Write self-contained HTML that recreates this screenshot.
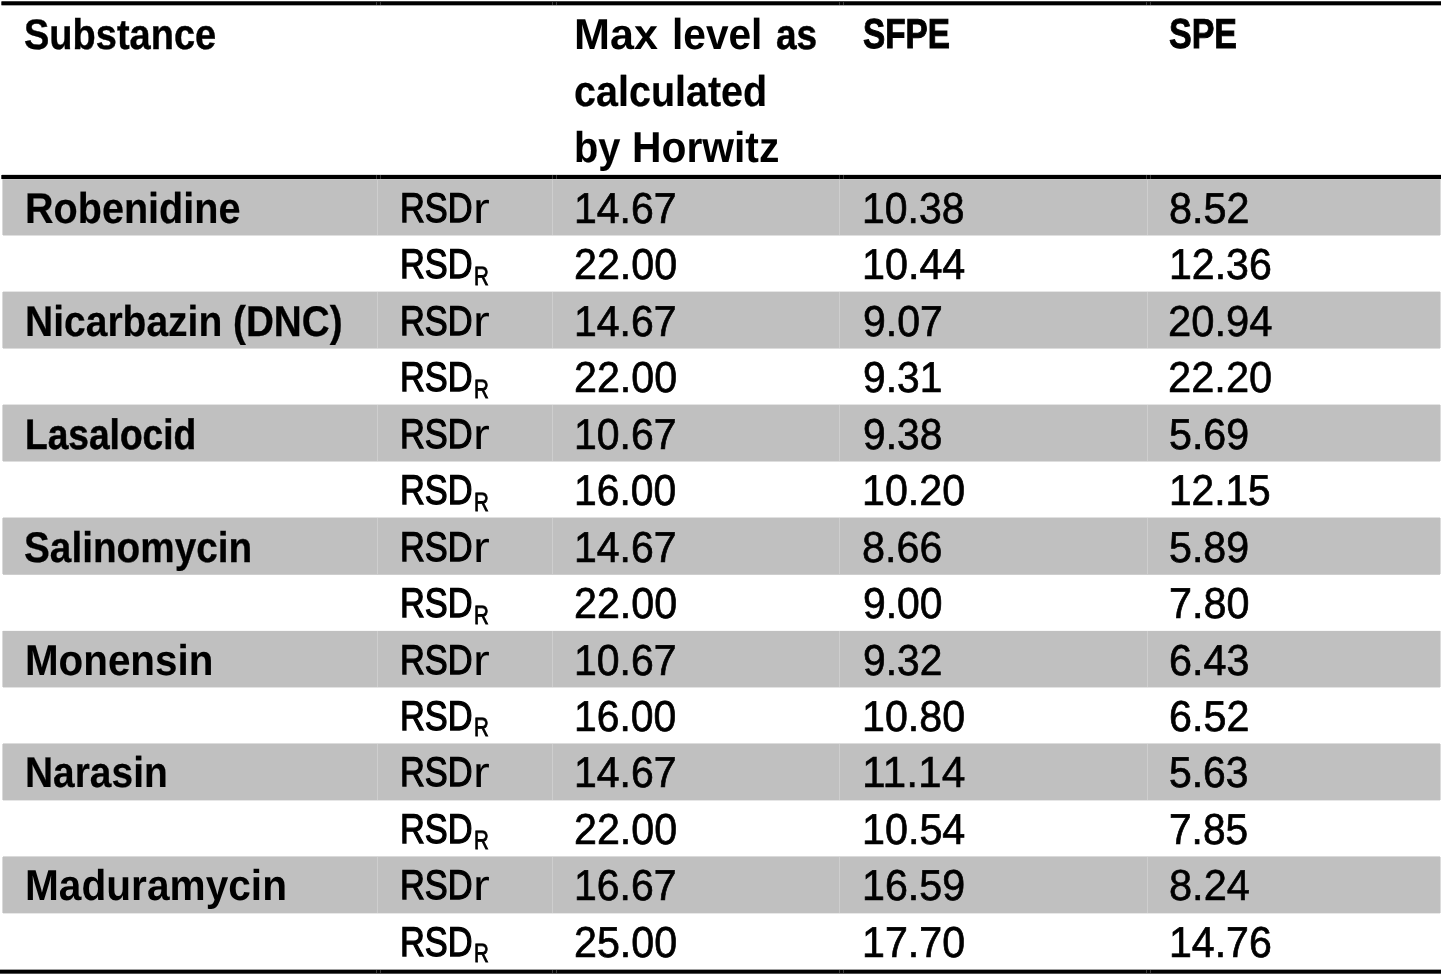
<!DOCTYPE html>
<html lang="en"><head><meta charset="utf-8"><title>Table</title>
<style>
html,body{margin:0;padding:0;background:#fff}
body{width:1444px;height:980px;position:relative;overflow:hidden;font-family:"Liberation Sans",sans-serif;color:#000;text-rendering:geometricPrecision}
.ln{position:absolute}
.g{position:absolute;left:3px;width:1437px}
.sm{position:absolute;width:1px;background:#cecece}
.n{position:absolute;width:1px;background:#3a3a3a}
.tx{position:absolute;left:0;top:0;width:1444px;height:980px;will-change:transform}
.t{position:absolute;white-space:nowrap;line-height:60px;transform-origin:0 0;-webkit-text-stroke-color:#000}
.b{font-weight:bold}
</style></head><body>

<div class="g" style="top:179px;height:57px;background:linear-gradient(to bottom,#c0c0c0 0 1px,#c0c0c0 1px 56px,#e0e0e0 56px 57px)"></div>
<div class="sm" style="left:377px;top:179px;height:56px"></div>
<div class="sm" style="left:552px;top:179px;height:56px"></div>
<div class="sm" style="left:839px;top:179px;height:56px"></div>
<div class="sm" style="left:1147px;top:179px;height:56px"></div>
<div class="sm" style="left:2px;top:179px;height:56px;background:#dadada"></div>
<div class="sm" style="left:1440px;top:179px;height:56px;background:#dcdcdc"></div>
<div class="g" style="top:291px;height:58px;background:linear-gradient(to bottom,#e6e6e6 0 1px,#c0c0c0 1px 57px,#dcdcdc 57px 58px)"></div>
<div class="sm" style="left:377px;top:292px;height:56px"></div>
<div class="sm" style="left:552px;top:292px;height:56px"></div>
<div class="sm" style="left:839px;top:292px;height:56px"></div>
<div class="sm" style="left:1147px;top:292px;height:56px"></div>
<div class="sm" style="left:2px;top:292px;height:56px;background:#dadada"></div>
<div class="sm" style="left:1440px;top:292px;height:56px;background:#dcdcdc"></div>
<div class="g" style="top:404px;height:58px;background:linear-gradient(to bottom,#e4e4e4 0 1px,#c0c0c0 1px 57px,#dedede 57px 58px)"></div>
<div class="sm" style="left:377px;top:405px;height:56px"></div>
<div class="sm" style="left:552px;top:405px;height:56px"></div>
<div class="sm" style="left:839px;top:405px;height:56px"></div>
<div class="sm" style="left:1147px;top:405px;height:56px"></div>
<div class="sm" style="left:2px;top:405px;height:56px;background:#dadada"></div>
<div class="sm" style="left:1440px;top:405px;height:56px;background:#dcdcdc"></div>
<div class="g" style="top:517px;height:58px;background:linear-gradient(to bottom,#e1e1e1 0 1px,#c0c0c0 1px 57px,#cecece 57px 58px)"></div>
<div class="sm" style="left:377px;top:518px;height:56px"></div>
<div class="sm" style="left:552px;top:518px;height:56px"></div>
<div class="sm" style="left:839px;top:518px;height:56px"></div>
<div class="sm" style="left:1147px;top:518px;height:56px"></div>
<div class="sm" style="left:2px;top:518px;height:56px;background:#dadada"></div>
<div class="sm" style="left:1440px;top:518px;height:56px;background:#dcdcdc"></div>
<div class="g" style="top:630px;height:58px;background:linear-gradient(to bottom,#f8f8f8 0 1px,#c0c0c0 1px 57px,#e3e3e3 57px 58px)"></div>
<div class="sm" style="left:377px;top:631px;height:56px"></div>
<div class="sm" style="left:552px;top:631px;height:56px"></div>
<div class="sm" style="left:839px;top:631px;height:56px"></div>
<div class="sm" style="left:1147px;top:631px;height:56px"></div>
<div class="sm" style="left:2px;top:631px;height:56px;background:#dadada"></div>
<div class="sm" style="left:1440px;top:631px;height:56px;background:#dcdcdc"></div>
<div class="g" style="top:743px;height:58px;background:linear-gradient(to bottom,#dcdcdc 0 1px,#c0c0c0 1px 57px,#e6e6e6 57px 58px)"></div>
<div class="sm" style="left:377px;top:744px;height:56px"></div>
<div class="sm" style="left:552px;top:744px;height:56px"></div>
<div class="sm" style="left:839px;top:744px;height:56px"></div>
<div class="sm" style="left:1147px;top:744px;height:56px"></div>
<div class="sm" style="left:2px;top:744px;height:56px;background:#dadada"></div>
<div class="sm" style="left:1440px;top:744px;height:56px;background:#dcdcdc"></div>
<div class="g" style="top:856px;height:58px;background:linear-gradient(to bottom,#dadada 0 1px,#c0c0c0 1px 57px,#e8e8e8 57px 58px)"></div>
<div class="sm" style="left:377px;top:857px;height:56px"></div>
<div class="sm" style="left:552px;top:857px;height:56px"></div>
<div class="sm" style="left:839px;top:857px;height:56px"></div>
<div class="sm" style="left:1147px;top:857px;height:56px"></div>
<div class="sm" style="left:2px;top:857px;height:56px;background:#dadada"></div>
<div class="sm" style="left:1440px;top:857px;height:56px;background:#dcdcdc"></div>
<div class="ln" style="left:2px;top:1px;width:1439px;height:5px;background:linear-gradient(to bottom,#404040 0 1px,#000 1px 4px,#a8a8a8 4px 5px)"></div>
<div class="ln" style="left:1px;top:1px;width:1px;height:5px;background:linear-gradient(to bottom,#909090 0 1px,#505050 1px 4px,#d0d0d0 4px 5px)"></div>
<div class="ln" style="left:2px;top:175px;width:1439px;height:4px;background:#000"></div>
<div class="ln" style="left:1px;top:175px;width:1px;height:4px;background:#505050"></div>
<div class="ln" style="left:0;top:969px;width:1441px;height:5px;background:linear-gradient(to bottom,#a0a0a0 0 1px,#000 1px 4px,#505050 4px 5px)"></div>
<div class="ln" style="left:2px;top:174px;width:1439px;height:1px;background:#dcdcdc"></div>
<div class="ln" style="left:3px;top:179px;width:1437px;height:1px;background:#cacaca"></div>
<div class="n" style="left:376px;top:2px;height:3px"></div>
<div class="n" style="left:376px;top:175px;height:4px"></div>
<div class="n" style="left:376px;top:970px;height:3px"></div>
<div class="n" style="left:380px;top:2px;height:3px"></div>
<div class="n" style="left:380px;top:175px;height:4px"></div>
<div class="n" style="left:380px;top:970px;height:3px"></div>
<div class="n" style="left:552px;top:2px;height:3px"></div>
<div class="n" style="left:552px;top:175px;height:4px"></div>
<div class="n" style="left:552px;top:970px;height:3px"></div>
<div class="n" style="left:556px;top:2px;height:3px"></div>
<div class="n" style="left:556px;top:175px;height:4px"></div>
<div class="n" style="left:556px;top:970px;height:3px"></div>
<div class="n" style="left:839px;top:2px;height:3px"></div>
<div class="n" style="left:839px;top:175px;height:4px"></div>
<div class="n" style="left:839px;top:970px;height:3px"></div>
<div class="n" style="left:843px;top:2px;height:3px"></div>
<div class="n" style="left:843px;top:175px;height:4px"></div>
<div class="n" style="left:843px;top:970px;height:3px"></div>
<div class="n" style="left:1146px;top:2px;height:3px"></div>
<div class="n" style="left:1146px;top:175px;height:4px"></div>
<div class="n" style="left:1146px;top:970px;height:3px"></div>
<div class="n" style="left:1150px;top:2px;height:3px"></div>
<div class="n" style="left:1150px;top:175px;height:4px"></div>
<div class="n" style="left:1150px;top:970px;height:3px"></div>
<div class="tx">
<span class="t b" style="left:24.11px;top:5.00px;font-size:42.73px;transform:scaleX(0.8898);-webkit-text-stroke-width:0.4px">Substance</span>
<span class="t b" style="left:573.71px;top:5.00px;font-size:43.31px;transform:scaleX(0.9969)">Max</span>
<span class="t b" style="left:672.18px;top:5.00px;font-size:43.31px;transform:scaleX(0.9385)">level</span>
<span class="t b" style="left:776.03px;top:5.00px;font-size:42.59px;transform:scaleX(0.8693);-webkit-text-stroke-width:0.5px">as</span>
<span class="t b" style="left:573.62px;top:62.00px;font-size:43.02px;transform:scaleX(0.9183);-webkit-text-stroke-width:0.2px">calculated</span>
<span class="t b" style="left:573.96px;top:118.00px;font-size:43.17px;transform:scaleX(0.9242);-webkit-text-stroke-width:0.1px">by</span>
<span class="t b" style="left:631.97px;top:118.00px;font-size:43.31px;transform:scaleX(0.9423)">Horwitz</span>
<span class="t b" style="left:862.50px;top:4.00px;font-size:41.86px;transform:scaleX(0.7953);-webkit-text-stroke-width:1px">SFPE</span>
<span class="t b" style="left:1168.79px;top:4.00px;font-size:42.01px;transform:scaleX(0.8098);-webkit-text-stroke-width:0.9px">SPE</span>
<span class="t b" style="left:24.87px;top:179.00px;font-size:43.02px;transform:scaleX(0.9200);-webkit-text-stroke-width:0.2px">Robenidine</span>
<span class="t b" style="left:24.91px;top:292.00px;font-size:43.02px;transform:scaleX(0.9069);-webkit-text-stroke-width:0.2px">Nicarbazin</span>
<span class="t b" style="left:233.10px;top:292.00px;font-size:42.88px;transform:scaleX(0.9021);-webkit-text-stroke-width:0.3px">(DNC)</span>
<span class="t b" style="left:25.12px;top:405.00px;font-size:42.59px;transform:scaleX(0.8716);-webkit-text-stroke-width:0.5px">Lasalocid</span>
<span class="t b" style="left:23.80px;top:518.00px;font-size:42.88px;transform:scaleX(0.9036);-webkit-text-stroke-width:0.3px">Salinomycin</span>
<span class="t b" style="left:25.13px;top:631.00px;font-size:43.17px;transform:scaleX(0.9352);-webkit-text-stroke-width:0.1px">Monensin</span>
<span class="t b" style="left:24.71px;top:743.00px;font-size:43.02px;transform:scaleX(0.9043);-webkit-text-stroke-width:0.2px">Narasin</span>
<span class="t b" style="left:24.88px;top:856.00px;font-size:43.31px;transform:scaleX(0.9386)">Maduramycin</span>
<span class="t" style="left:400.02px;top:178.00px;font-size:41.42px;transform:scaleX(0.8300);-webkit-text-stroke-width:1.3px">RSD</span>
<span class="t" style="left:472.51px;top:179.00px;font-size:43.31px;transform:scaleX(1.1628)">r</span>
<span class="t" style="left:400.02px;top:234.00px;font-size:41.42px;transform:scaleX(0.8300);-webkit-text-stroke-width:1.3px">RSD</span>
<span class="t" style="left:473.54px;top:246.00px;font-size:26.45px;transform:scaleX(0.7761);-webkit-text-stroke-width:0.8px">R</span>
<span class="t" style="left:400.02px;top:291.00px;font-size:41.42px;transform:scaleX(0.8300);-webkit-text-stroke-width:1.3px">RSD</span>
<span class="t" style="left:472.51px;top:292.00px;font-size:43.31px;transform:scaleX(1.1628)">r</span>
<span class="t" style="left:400.02px;top:347.00px;font-size:41.42px;transform:scaleX(0.8300);-webkit-text-stroke-width:1.3px">RSD</span>
<span class="t" style="left:473.54px;top:359.00px;font-size:26.45px;transform:scaleX(0.7761);-webkit-text-stroke-width:0.8px">R</span>
<span class="t" style="left:400.02px;top:404.00px;font-size:41.42px;transform:scaleX(0.8300);-webkit-text-stroke-width:1.3px">RSD</span>
<span class="t" style="left:472.51px;top:405.00px;font-size:43.31px;transform:scaleX(1.1628)">r</span>
<span class="t" style="left:400.02px;top:460.00px;font-size:41.42px;transform:scaleX(0.8300);-webkit-text-stroke-width:1.3px">RSD</span>
<span class="t" style="left:473.54px;top:472.00px;font-size:26.45px;transform:scaleX(0.7761);-webkit-text-stroke-width:0.8px">R</span>
<span class="t" style="left:400.02px;top:517.00px;font-size:41.42px;transform:scaleX(0.8300);-webkit-text-stroke-width:1.3px">RSD</span>
<span class="t" style="left:472.51px;top:518.00px;font-size:43.31px;transform:scaleX(1.1628)">r</span>
<span class="t" style="left:400.02px;top:573.00px;font-size:41.42px;transform:scaleX(0.8300);-webkit-text-stroke-width:1.3px">RSD</span>
<span class="t" style="left:473.54px;top:585.00px;font-size:26.45px;transform:scaleX(0.7761);-webkit-text-stroke-width:0.8px">R</span>
<span class="t" style="left:400.02px;top:630.00px;font-size:41.42px;transform:scaleX(0.8300);-webkit-text-stroke-width:1.3px">RSD</span>
<span class="t" style="left:472.51px;top:631.00px;font-size:43.31px;transform:scaleX(1.1628)">r</span>
<span class="t" style="left:400.02px;top:686.00px;font-size:41.42px;transform:scaleX(0.8300);-webkit-text-stroke-width:1.3px">RSD</span>
<span class="t" style="left:473.54px;top:697.00px;font-size:26.45px;transform:scaleX(0.7761);-webkit-text-stroke-width:0.8px">R</span>
<span class="t" style="left:400.02px;top:742.00px;font-size:41.42px;transform:scaleX(0.8300);-webkit-text-stroke-width:1.3px">RSD</span>
<span class="t" style="left:472.51px;top:743.00px;font-size:43.31px;transform:scaleX(1.1628)">r</span>
<span class="t" style="left:400.02px;top:799.00px;font-size:41.42px;transform:scaleX(0.8300);-webkit-text-stroke-width:1.3px">RSD</span>
<span class="t" style="left:473.54px;top:810.00px;font-size:26.45px;transform:scaleX(0.7761);-webkit-text-stroke-width:0.8px">R</span>
<span class="t" style="left:400.02px;top:855.00px;font-size:41.42px;transform:scaleX(0.8300);-webkit-text-stroke-width:1.3px">RSD</span>
<span class="t" style="left:472.51px;top:856.00px;font-size:43.31px;transform:scaleX(1.1628)">r</span>
<span class="t" style="left:400.02px;top:912.00px;font-size:41.42px;transform:scaleX(0.8300);-webkit-text-stroke-width:1.3px">RSD</span>
<span class="t" style="left:473.54px;top:923.00px;font-size:26.45px;transform:scaleX(0.7761);-webkit-text-stroke-width:0.8px">R</span>
<span class="t" style="left:574.35px;top:179.00px;font-size:43.17px;transform:scaleX(0.9492);-webkit-text-stroke-width:0.7px">14.67</span>
<span class="t" style="left:573.53px;top:235.00px;font-size:43.17px;transform:scaleX(0.9548);-webkit-text-stroke-width:0.7px">22.00</span>
<span class="t" style="left:574.35px;top:292.00px;font-size:43.17px;transform:scaleX(0.9492);-webkit-text-stroke-width:0.7px">14.67</span>
<span class="t" style="left:573.53px;top:348.00px;font-size:43.17px;transform:scaleX(0.9548);-webkit-text-stroke-width:0.7px">22.00</span>
<span class="t" style="left:574.35px;top:405.00px;font-size:43.17px;transform:scaleX(0.9492);-webkit-text-stroke-width:0.7px">10.67</span>
<span class="t" style="left:574.36px;top:461.00px;font-size:43.17px;transform:scaleX(0.9470);-webkit-text-stroke-width:0.7px">16.00</span>
<span class="t" style="left:574.35px;top:518.00px;font-size:43.17px;transform:scaleX(0.9492);-webkit-text-stroke-width:0.7px">14.67</span>
<span class="t" style="left:573.53px;top:574.00px;font-size:43.17px;transform:scaleX(0.9548);-webkit-text-stroke-width:0.7px">22.00</span>
<span class="t" style="left:574.35px;top:631.00px;font-size:43.17px;transform:scaleX(0.9492);-webkit-text-stroke-width:0.7px">10.67</span>
<span class="t" style="left:574.36px;top:687.00px;font-size:43.17px;transform:scaleX(0.9470);-webkit-text-stroke-width:0.7px">16.00</span>
<span class="t" style="left:574.35px;top:743.00px;font-size:43.17px;transform:scaleX(0.9492);-webkit-text-stroke-width:0.7px">14.67</span>
<span class="t" style="left:573.53px;top:800.00px;font-size:43.17px;transform:scaleX(0.9548);-webkit-text-stroke-width:0.7px">22.00</span>
<span class="t" style="left:574.35px;top:856.00px;font-size:43.17px;transform:scaleX(0.9492);-webkit-text-stroke-width:0.7px">16.67</span>
<span class="t" style="left:573.53px;top:913.00px;font-size:43.17px;transform:scaleX(0.9548);-webkit-text-stroke-width:0.7px">25.00</span>
<span class="t" style="left:862.45px;top:179.00px;font-size:43.17px;transform:scaleX(0.9493);-webkit-text-stroke-width:0.7px">10.38</span>
<span class="t" style="left:862.43px;top:235.00px;font-size:43.17px;transform:scaleX(0.9567);-webkit-text-stroke-width:0.7px">10.44</span>
<span class="t" style="left:862.64px;top:292.00px;font-size:43.17px;transform:scaleX(0.9503);-webkit-text-stroke-width:0.7px">9.07</span>
<span class="t" style="left:862.65px;top:348.00px;font-size:43.17px;transform:scaleX(0.9441);-webkit-text-stroke-width:0.7px">9.31</span>
<span class="t" style="left:862.65px;top:405.00px;font-size:43.17px;transform:scaleX(0.9443);-webkit-text-stroke-width:0.7px">9.38</span>
<span class="t" style="left:862.44px;top:461.00px;font-size:43.17px;transform:scaleX(0.9542);-webkit-text-stroke-width:0.7px">10.20</span>
<span class="t" style="left:861.61px;top:518.00px;font-size:43.31px;transform:scaleX(0.9569);-webkit-text-stroke-width:0.6px">8.66</span>
<span class="t" style="left:862.64px;top:574.00px;font-size:43.17px;transform:scaleX(0.9475);-webkit-text-stroke-width:0.7px">9.00</span>
<span class="t" style="left:862.65px;top:631.00px;font-size:43.17px;transform:scaleX(0.9441);-webkit-text-stroke-width:0.7px">9.32</span>
<span class="t" style="left:862.44px;top:687.00px;font-size:43.17px;transform:scaleX(0.9542);-webkit-text-stroke-width:0.7px">10.80</span>
<span class="t" style="left:862.36px;top:743.00px;font-size:43.46px;transform:scaleX(0.9803);-webkit-text-stroke-width:0.5px">11.14</span>
<span class="t" style="left:862.43px;top:800.00px;font-size:43.17px;transform:scaleX(0.9567);-webkit-text-stroke-width:0.7px">10.54</span>
<span class="t" style="left:862.44px;top:856.00px;font-size:43.17px;transform:scaleX(0.9540);-webkit-text-stroke-width:0.7px">16.59</span>
<span class="t" style="left:862.44px;top:913.00px;font-size:43.17px;transform:scaleX(0.9542);-webkit-text-stroke-width:0.7px">17.70</span>
<span class="t" style="left:1168.62px;top:179.00px;font-size:43.17px;transform:scaleX(0.9567);-webkit-text-stroke-width:0.7px">8.52</span>
<span class="t" style="left:1169.44px;top:235.00px;font-size:43.17px;transform:scaleX(0.9517);-webkit-text-stroke-width:0.7px">12.36</span>
<span class="t" style="left:1168.37px;top:292.00px;font-size:43.31px;transform:scaleX(0.9644);-webkit-text-stroke-width:0.6px">20.94</span>
<span class="t" style="left:1168.38px;top:348.00px;font-size:43.31px;transform:scaleX(0.9619);-webkit-text-stroke-width:0.6px">22.20</span>
<span class="t" style="left:1169.36px;top:405.00px;font-size:43.17px;transform:scaleX(0.9537);-webkit-text-stroke-width:0.7px">5.69</span>
<span class="t" style="left:1169.47px;top:461.00px;font-size:43.17px;transform:scaleX(0.9420);-webkit-text-stroke-width:0.7px">12.15</span>
<span class="t" style="left:1169.36px;top:518.00px;font-size:43.17px;transform:scaleX(0.9537);-webkit-text-stroke-width:0.7px">5.89</span>
<span class="t" style="left:1168.88px;top:574.00px;font-size:43.17px;transform:scaleX(0.9568);-webkit-text-stroke-width:0.7px">7.80</span>
<span class="t" style="left:1168.63px;top:631.00px;font-size:43.17px;transform:scaleX(0.9567);-webkit-text-stroke-width:0.7px">6.43</span>
<span class="t" style="left:1168.63px;top:687.00px;font-size:43.17px;transform:scaleX(0.9565);-webkit-text-stroke-width:0.7px">6.52</span>
<span class="t" style="left:1169.37px;top:743.00px;font-size:43.17px;transform:scaleX(0.9477);-webkit-text-stroke-width:0.7px">5.63</span>
<span class="t" style="left:1168.90px;top:800.00px;font-size:43.17px;transform:scaleX(0.9412);-webkit-text-stroke-width:0.7px">7.85</span>
<span class="t" style="left:1168.61px;top:856.00px;font-size:43.31px;transform:scaleX(0.9602);-webkit-text-stroke-width:0.6px">8.24</span>
<span class="t" style="left:1169.44px;top:913.00px;font-size:43.17px;transform:scaleX(0.9517);-webkit-text-stroke-width:0.7px">14.76</span>
</div>
</body></html>
